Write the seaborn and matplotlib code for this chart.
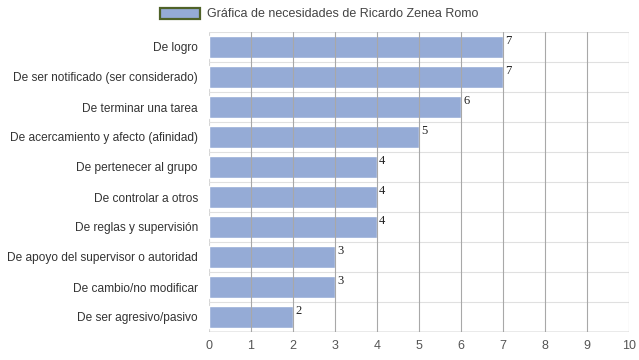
import pandas as pd
import numpy as np
from matplotlib import pyplot as plt
from matplotlib.patches import Patch
import seaborn as sns

# Chart data
categories = ['De logro', 'De ser notificado (ser considerado)', 'De terminar una tarea',
              'De acercamiento y afecto (afinidad)', 'De pertenecer al grupo',
              'De controlar a otros', 'De reglas y supervisión',
              'De apoyo del supervisor o autoridad', 'De cambio/no modificar',
              'De ser agresivo/pasivo']
values = [7, 7, 6, 5, 4, 4, 4, 3, 3, 2]
x_ticks = list(range(0, 11))
series_name = 'Gráfica de necesidades de Ricardo Zenea Romo'

df = pd.DataFrame({'need': categories, 'value': values})

sns.set_style('white')
plt.rcParams['font.family'] = ['Liberation Sans', 'DejaVu Sans']

fig = plt.figure(figsize=(6.39, 3.6), dpi=100)
ax = fig.add_axes([209 / 639, 1 - 332 / 360, 420 / 639, 300 / 360])

bar_color = '#95abd6'
sns.barplot(data=df, x='value', y='need', color=bar_color, width=0.74,
            saturation=1, ax=ax, zorder=1)

ax.set_xlim(0, 10)
ax.set_ylim(len(categories) - 0.5, -0.5)
ax.set_xticks(x_ticks)
ax.set_xlabel('')
ax.set_ylabel('')

# vertical grid (dark) and horizontal separators (light)
for xv in x_ticks[1:]:
    ax.axvline(xv, color='#a8a8a8', lw=0.8, zorder=2)
ax.axvline(0, color='#d5d5d5', lw=0.8, zorder=0)
for yb in np.arange(-0.5, len(categories), 1.0):
    ax.axhline(yb, color='#e0e0e0', lw=0.8, zorder=0)
ax.axhline(len(categories) - 0.5, color='#a0a0a0', lw=1.0, zorder=3)

for s in ax.spines.values():
    s.set_visible(False)

ax.tick_params(axis='x', length=0, labelsize=9, colors='#555555', pad=6)
ax.tick_params(axis='y', length=0, labelsize=8.6, colors='#333333', pad=8)

# value labels
for i, v in enumerate(values):
    ax.text(v + 0.05, i - 0.4, str(v), ha='left', va='top', fontsize=9,
            family=['Liberation Serif', 'DejaVu Serif'], color='#222222', zorder=4)

handle = Patch(facecolor=bar_color, edgecolor='#4f6228', linewidth=1.6)
fig.legend(handles=[handle], labels=[series_name], loc='center',
           bbox_to_anchor=(319 / 639, 1 - 14 / 360), frameon=False,
           fontsize=9, handlelength=3.2, handleheight=1.0, handletextpad=0.6,
           labelcolor='#444444')

fig.savefig('out.png', dpi=100)
